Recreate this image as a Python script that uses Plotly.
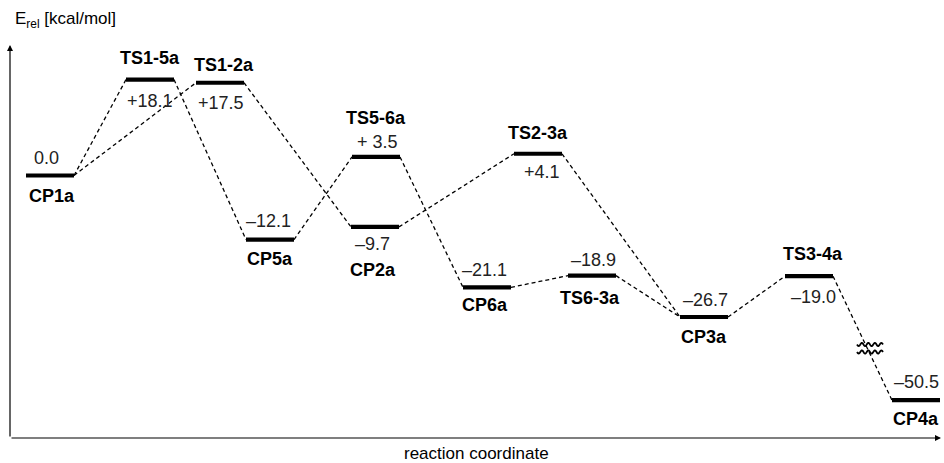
import numpy as np
import plotly.graph_objects as go

# ---------------- data ----------------
names = ["CP1a", "TS1-5a", "TS1-2a", "CP5a", "TS5-6a", "CP2a",
         "TS2-3a", "CP6a", "TS6-3a", "CP3a", "TS3-4a", "CP4a"]
energies = [0.0, 18.1, 17.5, -12.1, 3.5, -9.7, 4.1, -21.1, -18.9, -26.7, -19.0, -50.5]
value_labels = ["0.0", "+18.1", "+17.5", "\u201312.1", "+ 3.5", "\u20139.7",
                "+4.1", "\u201321.1", "\u201318.9", "\u201326.7", "\u201319.0", "\u201350.5"]
# position of each species along the reaction coordinate
reaction_coord = [50, 150, 220, 270, 376, 375, 538, 487, 592, 704, 809, 916]
connections = [("CP1a", "TS1-5a"), ("CP1a", "TS1-2a"), ("TS1-5a", "CP5a"),
               ("TS1-2a", "CP2a"), ("CP5a", "TS5-6a"), ("TS5-6a", "CP6a"),
               ("CP2a", "TS2-3a"), ("TS2-3a", "CP3a"), ("CP6a", "TS6-3a"),
               ("TS6-3a", "CP3a"), ("CP3a", "TS3-4a"), ("TS3-4a", "CP4a")]
# axis break: energies below this threshold are drawn shifted upward
break_threshold = -40.0
break_shift = 8.1

# ---------------- style ----------------
W, H = 944, 463
PX_PER_UNIT = 5.3
ZERO_PX = 175.5
LEVEL_HALF = 24
FONT = "Liberation Sans, Arial, Helvetica, sans-serif"
# label offsets (pixels): (dx, dy) for name and value
name_off = [(2, -20), (0, 22), (4, 18), (0, -19), (0, 39), (-2, -43),
            (0, 21), (-2, -18), (-2, -22), (0, -20), (4, 22), (0, -19)]
val_off = [(-4, 18), (0, -21), (1, -20), (-2, 19), (1, 15), (-3, -17),
           (4, -18), (-3, 17), (1, 16), (1, 17), (4, -21), (0, 18)]


def e_of_px(py):
    return (ZERO_PX - py) / PX_PER_UNIT


def plotted(e):
    return e + break_shift if e < break_threshold else e


idx = {n: i for i, n in enumerate(names)}
fig = go.Figure()

# dashed connectors
for a, b in connections:
    i, j = idx[a], idx[b]
    fig.add_trace(go.Scatter(
        x=[reaction_coord[i] + LEVEL_HALF, reaction_coord[j] - LEVEL_HALF],
        y=[plotted(energies[i]), plotted(energies[j])],
        mode="lines", line=dict(color="black", width=1.3, dash="4px,3px"),
        hoverinfo="skip", showlegend=False))

# energy levels
for i, n in enumerate(names):
    fig.add_trace(go.Scatter(
        x=[reaction_coord[i] - LEVEL_HALF, reaction_coord[i] + LEVEL_HALF],
        y=[plotted(energies[i])] * 2,
        mode="lines", line=dict(color="black", width=4.2),
        name=n, showlegend=False))

# labels
ann = []
for i, n in enumerate(names):
    y = plotted(energies[i])
    ann.append(dict(x=reaction_coord[i] + name_off[i][0], y=y, yshift=name_off[i][1],
                    text=f"<b>{n}</b>", showarrow=False, xanchor="center", yanchor="middle",
                    font=dict(family=FONT, size=18, color="black")))
    ann.append(dict(x=reaction_coord[i] + val_off[i][0], y=y, yshift=val_off[i][1],
                    text=value_labels[i], showarrow=False, xanchor="center", yanchor="middle",
                    font=dict(family=FONT, size=18, color="#222")))

# axes with arrows
x0, y_axis_px, x1, ytop_px = 10, 438, 941, 45
ann.append(dict(x=x1, y=e_of_px(y_axis_px), ax=x0, ay=e_of_px(y_axis_px),
                xref="x", yref="y", axref="x", ayref="y", showarrow=True,
                arrowhead=2, arrowsize=1, arrowwidth=1.2, arrowcolor="black", text=""))
ann.append(dict(x=x0, y=e_of_px(ytop_px), ax=x0, ay=e_of_px(y_axis_px),
                xref="x", yref="y", axref="x", ayref="y", showarrow=True,
                arrowhead=2, arrowsize=1, arrowwidth=1.2, arrowcolor="black", text=""))
ann.append(dict(x=476, y=e_of_px(453), text="reaction coordinate", showarrow=False,
                xanchor="center", yanchor="middle",
                font=dict(family=FONT, size=17, color="black")))
ann.append(dict(x=13, y=e_of_px(20), text="E<sub>rel</sub> [kcal/mol]", showarrow=False,
                xanchor="left", yanchor="middle",
                font=dict(family=FONT, size=17, color="black")))

# axis-break wavy marks
shapes = []
for wy in (344.5, 352):
    xs = np.linspace(857, 883, 80)
    ys = wy + 1.6 * np.sin((xs - 857) / 26 * 4 * 2 * np.pi)
    path = "M " + " L ".join(f"{xx:.2f},{e_of_px(yy):.3f}" for xx, yy in zip(xs, ys))
    shapes.append(dict(type="path", path=path, xref="x", yref="y",
                       line=dict(color="black", width=1.8)))

fig.update_layout(
    width=W, height=H, margin=dict(l=0, r=0, t=0, b=0),
    paper_bgcolor="white", plot_bgcolor="white",
    xaxis=dict(range=[0, W], visible=False, fixedrange=True),
    yaxis=dict(range=[e_of_px(H), e_of_px(0)], visible=False, fixedrange=True),
    annotations=ann, shapes=shapes, showlegend=False)

fig.write_html("out.html", config={"displayModeBar": False},
               post_script="document.body.style.margin='0';document.body.style.padding='0';")
